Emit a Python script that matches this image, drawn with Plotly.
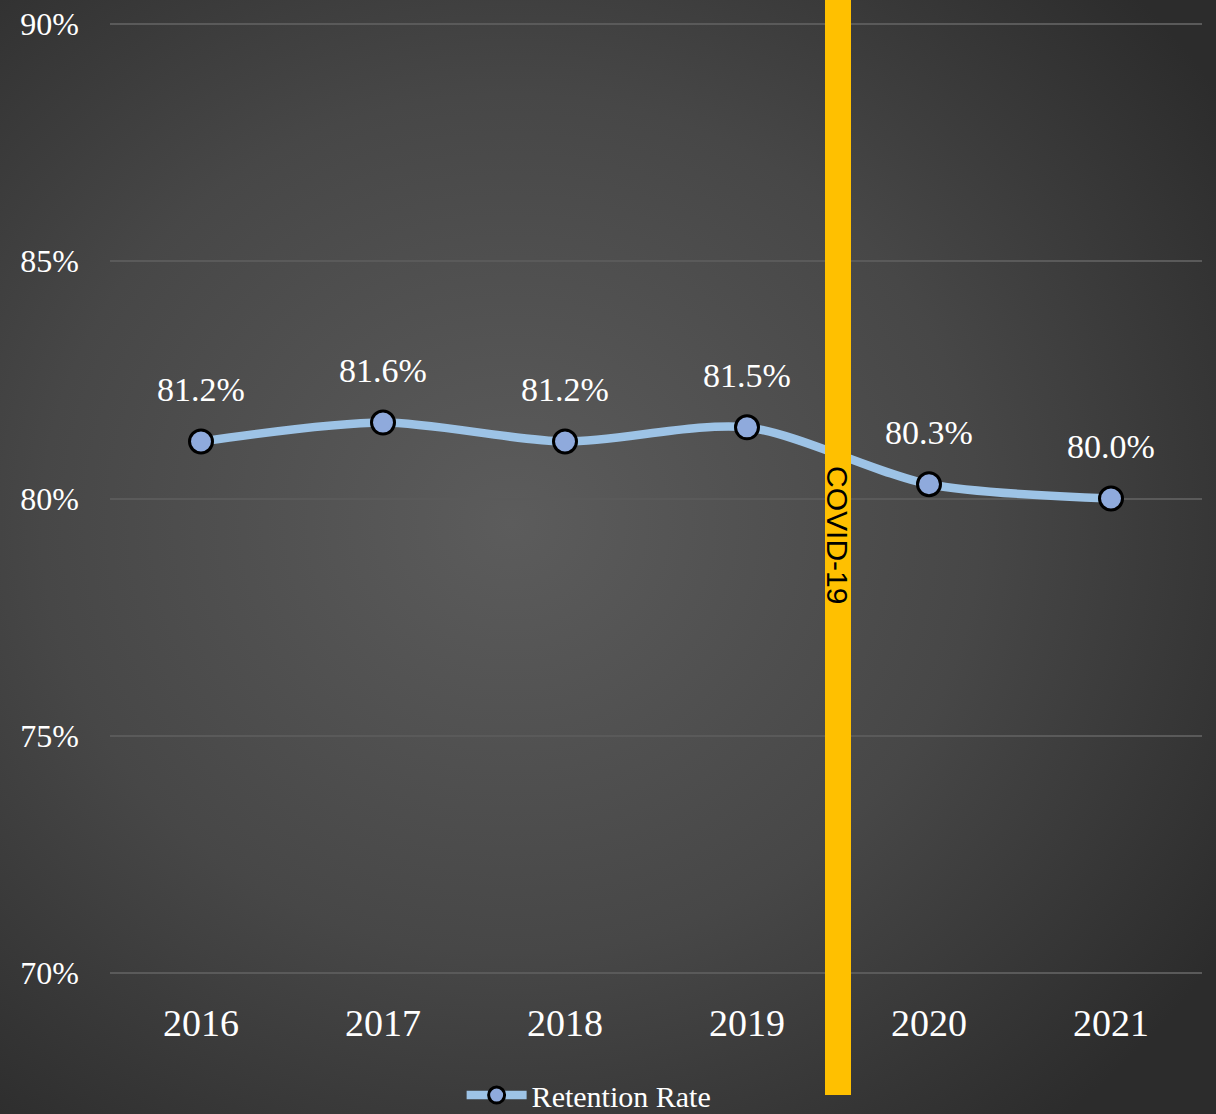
import base64
import plotly.graph_objects as go

# ---- data ----
years = ["2016", "2017", "2018", "2019", "2020", "2021"]
retention = [81.2, 81.6, 81.2, 81.5, 80.3, 80.0]
labels = ["81.2%", "81.6%", "81.2%", "81.5%", "80.3%", "80.0%"]
y_ticks = [70, 75, 80, 85, 90]
y_tick_text = ["70%", "75%", "80%", "85%", "90%"]
event_label = "COVID-19"
event_pos = 3.5  # between 2019 and 2020
series_name = "Retention Rate"

W, H = 1216, 1114
L, R, T, B = 110, 14, 22, 139
pw, ph = W - L - R, H - T - B

svg = f'''<svg xmlns="http://www.w3.org/2000/svg" width="{W}" height="{H}">
<defs><radialGradient id="g" cx="42%" cy="47%" r="70%">
<stop offset="0%" stop-color="#5c5c5c"/>
<stop offset="55%" stop-color="#474747"/>
<stop offset="100%" stop-color="#2c2c2c"/>
</radialGradient></defs>
<rect width="{W}" height="{H}" fill="url(#g)"/></svg>'''
bg_uri = "data:image/svg+xml;base64," + base64.b64encode(svg.encode()).decode()

serif = "Liberation Serif"

fig = go.Figure()
fig.add_trace(go.Scatter(
    x=years, y=retention, name=series_name, mode="lines+markers",
    line=dict(color="#9DC3E6", width=8.5, shape="spline", smoothing=0.8),
    marker=dict(size=23, color="#8FAADC", line=dict(color="#000000", width=3)),
    showlegend=True,
))

for i, (yv, t) in enumerate(zip(retention, labels)):
    fig.add_annotation(x=i, y=yv, text=t, showarrow=False, yshift=52,
                       font=dict(family=serif, size=34, color="#FFFFFF"))

fig.add_shape(type="rect", xref="x", yref="paper", xsizemode="pixel",
              xanchor=event_pos, x0=-13, x1=13, y0=-0.126, y1=1.03,
              fillcolor="#FFC000", line=dict(width=0), layer="above")
fig.add_annotation(x=event_pos, y=79.23, text=event_label, textangle=90,
                   showarrow=False,
                   font=dict(family="Liberation Sans", size=30, color="#000000"))

fig.add_layout_image(dict(source=bg_uri, xref="paper", yref="paper",
                          x=-L / pw, y=1 + T / ph, sizex=W / pw, sizey=H / ph,
                          xanchor="left", yanchor="top", sizing="stretch",
                          layer="below"))

fig.update_layout(
    width=W, height=H,
    margin=dict(l=L, r=R, t=T, b=B, autoexpand=False),
    paper_bgcolor="#3a3a3a", plot_bgcolor="rgba(0,0,0,0)",
    font=dict(family=serif, color="#FFFFFF"),
    xaxis=dict(type="category", range=[-0.5, 5.5], showgrid=False,
               zeroline=False, showline=False, ticks="", automargin=False,
               tickfont=dict(family=serif, size=38, color="#FFFFFF"),
               ticklabelstandoff=22),
    yaxis=dict(range=[69.96, 90.04], tickvals=y_ticks, ticktext=y_tick_text,
               showgrid=True, gridcolor="#5a5a5a", gridwidth=2,
               zeroline=False, showline=False, ticks="", automargin=False,
               tickfont=dict(family=serif, size=32, color="#FFFFFF"),
               ticklabelstandoff=30),
    legend=dict(orientation="h", x=0.322, xanchor="left", y=-0.126,
                yanchor="middle", font=dict(family=serif, size=30, color="#FFFFFF"),
                bgcolor="rgba(0,0,0,0)", itemwidth=60),
)

fig.write_html("out.html", config={"displayModeBar": False},
               post_script="document.body.style.margin='0';")
